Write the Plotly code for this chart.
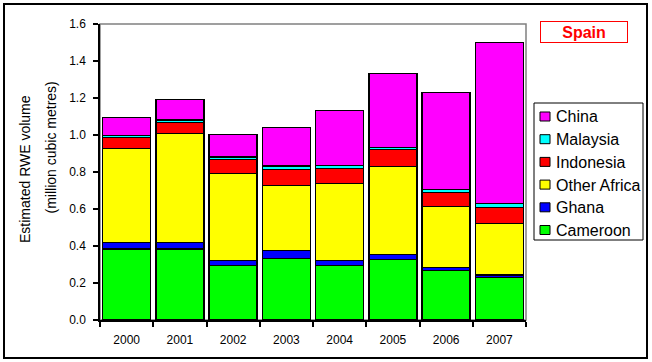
import plotly.graph_objects as go

years = ["2000", "2001", "2002", "2003", "2004", "2005", "2006", "2007"]
series_names = ["Cameroon", "Ghana", "Other Africa", "Indonesia", "Malaysia", "China"]
series_colors = ["#00FF00", "#0000FF", "#FFFF00", "#FF0000", "#00FFFF", "#FF00FF"]

cameroon = [0.385, 0.385, 0.294, 0.332, 0.294, 0.326, 0.267, 0.231]
ghana = [0.035, 0.035, 0.028, 0.045, 0.028, 0.029, 0.018, 0.012]
other_africa = [0.508, 0.587, 0.471, 0.349, 0.415, 0.476, 0.328, 0.280]
indonesia = [0.059, 0.060, 0.075, 0.088, 0.083, 0.091, 0.077, 0.086]
malaysia = [0.011, 0.014, 0.013, 0.018, 0.016, 0.011, 0.016, 0.022]
china = [0.097, 0.112, 0.123, 0.209, 0.297, 0.400, 0.525, 0.870]

series_values = [cameroon, ghana, other_africa, indonesia, malaysia, china]

y_ticks = [0.0, 0.2, 0.4, 0.6, 0.8, 1.0, 1.2, 1.4, 1.6]

FONT = "Arial, Liberation Sans, sans-serif"
W, H = 652, 362
L, R, T, B = 100, 126, 24, 42
PW, PH = W - L - R, H - T - B


def px_x(p):
    return (p - L) / PW


def px_y(p):
    return (H - B - p) / PH


fig = go.Figure()
for name, color, vals in zip(series_names, series_colors, series_values):
    fig.add_trace(go.Bar(
        x=years, y=vals, name=name,
        marker=dict(color=color, line=dict(color="black", width=1.5)),
        showlegend=False,
    ))

shapes = []
annotations = []

# plot area border (grey), below traces
shapes.append(dict(type="rect", xref="paper", yref="paper", x0=0, x1=1, y0=0, y1=1,
                   line=dict(color="#808080", width=1.5), layer="below"))
# outer chart border
shapes.append(dict(type="rect", xref="paper", yref="paper",
                   x0=px_x(4), x1=px_x(647), y0=px_y(358), y1=px_y(4),
                   line=dict(color="black", width=2)))

# manual legend (top entry = last series)
shapes.append(dict(type="rect", xref="paper", yref="paper",
                   x0=px_x(534), x1=px_x(643), y0=px_y(240), y1=px_y(103),
                   line=dict(color="black", width=1), fillcolor="white"))
row_h = 22.7
first_c = 116.5
for i, (name, color) in enumerate(zip(series_names[::-1], series_colors[::-1])):
    cy = first_c + i * row_h
    shapes.append(dict(type="rect", xref="paper", yref="paper",
                       x0=px_x(540), x1=px_x(550), y0=px_y(cy + 4.5), y1=px_y(cy - 4.5),
                       line=dict(color="black", width=1), fillcolor=color))
    annotations.append(dict(xref="paper", yref="paper", x=px_x(554), y=px_y(cy + 0.5),
                            text=name, showarrow=False, xanchor="left", yanchor="middle",
                            font=dict(family=FONT, size=16, color="black")))

# title box
annotations.append(dict(xref="paper", yref="paper", x=px_x(584), y=px_y(32),
                        text="<b>Spain</b>", showarrow=False, xanchor="center", yanchor="middle",
                        width=84, height=18, bordercolor="#FF0000", borderwidth=1, borderpad=1,
                        bgcolor="white", font=dict(family=FONT, size=16, color="#FF0000")))

# y axis title lines
annotations.append(dict(xref="paper", yref="paper", x=px_x(25), y=px_y(169),
                        text="Estimated RWE volume", showarrow=False, textangle=-90,
                        xanchor="center", yanchor="middle",
                        font=dict(family=FONT, size=14, color="black")))
annotations.append(dict(xref="paper", yref="paper", x=px_x(50), y=px_y(147.5),
                        text="(million cubic metres)", showarrow=False, textangle=-90,
                        xanchor="center", yanchor="middle",
                        font=dict(family=FONT, size=14, color="black")))

fig.update_layout(
    width=W, height=H, autosize=False,
    margin=dict(l=L, r=R, t=T, b=B),
    paper_bgcolor="white", plot_bgcolor="white",
    barmode="stack", bargap=0.1,
    font=dict(family=FONT, size=12, color="black"),
    shapes=shapes, annotations=annotations,
    showlegend=False,
)
fig.update_xaxes(type="category", showline=True, linecolor="black", linewidth=1.5,
                 ticks="outside", tickson="boundaries", ticklen=5, tickcolor="black",
                 tickwidth=1.5, showgrid=False, zeroline=False, ticklabelstandoff=8,
                 tickfont=dict(family=FONT, size=12, color="black"))
fig.update_yaxes(range=[0, 1.6], tickvals=y_ticks, tickformat=".1f",
                 showline=True, linecolor="black", linewidth=1.5,
                 ticks="outside", ticklen=5, tickcolor="black", tickwidth=1.5,
                 showgrid=False, zeroline=False, ticklabelstandoff=5,
                 tickfont=dict(family=FONT, size=12, color="black"))

fig.write_html("out.html", config={"displayModeBar": False},
               post_script="document.body.style.margin='0';")
